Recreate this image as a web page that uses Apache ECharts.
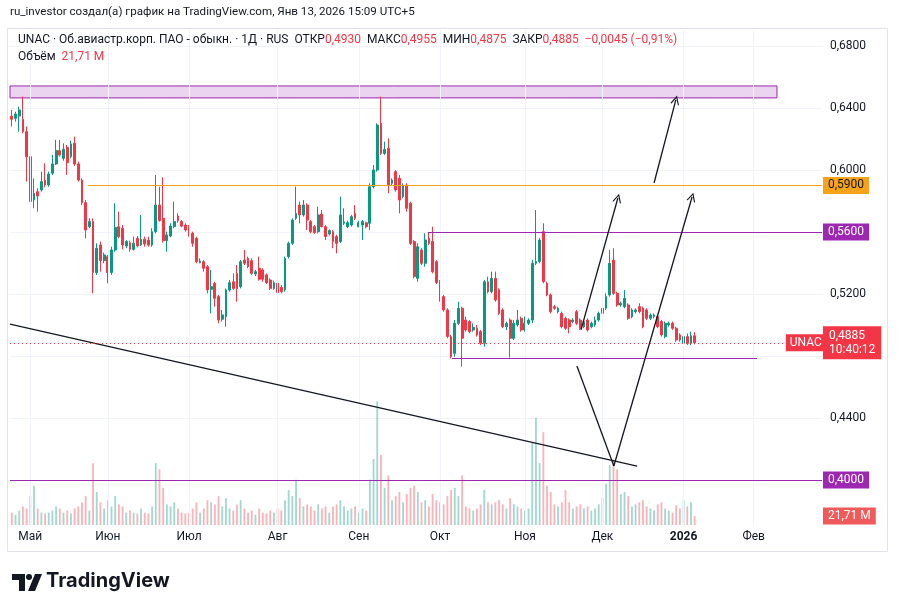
<!DOCTYPE html>
<html><head><meta charset="utf-8">
<script src="https://cdn.jsdelivr.net/npm/echarts@6/dist/echarts.min.js"></script>
<style>html,body{margin:0;padding:0;background:#fff}#c{width:898px;height:612px}</style>
</head><body><div id="c"></div>
<script>
// Daily candles UNAC: [open, close, low, high]
const candles = [
[.6348,.6327,.6280,.6387],[.6333,.6361,.6312,.6376],[.6348,.6387,.6247,.6409],[.6327,.6247,.6237,.6473],[.6247,.6086,.5925,.6280],
[.6086,.5796,.5645,.6097],[.5806,.5850,.5753,.5946],[.5860,.5832,.5731,.5882],[.5871,.5925,.5860,.5989],[.5935,.5903,.5888,.6043],
[.5903,.5974,.5892,.5989],[.5979,.6039,.5968,.6097],[.6039,.6125,.6032,.6194],[.6125,.6097,.6086,.6194],[.6075,.6133,.6060,.6172],
[.6146,.6047,.5968,.6161],[.6086,.6168,.6075,.6189],[.6172,.6039,.6026,.6215],[.6039,.5935,.5925,.6054],[.5935,.5789,.5774,.5946],
[.5789,.5613,.5559,.5806],[.5634,.5667,.5624,.5688],[.5667,.5338,.5204,.5688],[.5338,.5495,.5323,.5527],[.5516,.5415,.5344,.5538],
[.5415,.5452,.5398,.5467],[.5441,.5338,.5269,.5452],[.5338,.5484,.5323,.5505],[.5484,.5630,.5473,.5785],[.5634,.5570,.5559,.5731],
[.5624,.5516,.5488,.5645],[.5510,.5538,.5495,.5548],[.5531,.5488,.5473,.5544],[.5488,.5527,.5480,.5570],[.5559,.5510,.5501,.5574],
[.5516,.5553,.5510,.5710],[.5553,.5523,.5505,.5570],[.5548,.5516,.5505,.5570],[.5516,.5602,.5505,.5624],[.5602,.5774,.5591,.5968],
[.5774,.5673,.5667,.5892],[.5688,.5544,.5531,.5953],[.5544,.5581,.5473,.5602],[.5574,.5638,.5566,.5656],[.5634,.5667,.5624,.5796],
[.5703,.5673,.5660,.5720],[.5667,.5638,.5630,.5677],[.5645,.5613,.5602,.5656],[.5634,.5581,.5570,.5645],[.5591,.5527,.5505,.5602],
[.5559,.5408,.5398,.5570],[.5402,.5413,.5398,.5430],[.5408,.5366,.5344,.5419],[.5376,.5226,.5204,.5387],[.5230,.5247,.5075,.5355],
[.5269,.5172,.5118,.5279],[.5183,.5032,.5011,.5194],[.5037,.5065,.5022,.5097],[.5054,.5226,.4989,.5236],[.5226,.5273,.5215,.5290],
[.5279,.5236,.5226,.5333],[.5333,.5236,.5150,.5387],[.5247,.5408,.5236,.5419],[.5419,.5398,.5387,.5484],[.5430,.5376,.5366,.5441],
[.5415,.5333,.5323,.5430],[.5329,.5344,.5316,.5355],[.5366,.5295,.5286,.5441],[.5355,.5295,.5279,.5366],[.5323,.5273,.5264,.5333],
[.5290,.5236,.5226,.5301],[.5236,.5273,.5226,.5286],[.5269,.5209,.5200,.5279],[.5243,.5215,.5204,.5258],[.5226,.5430,.5215,.5441],
[.5441,.5527,.5430,.5538],[.5527,.5677,.5516,.5688],[.5688,.5720,.5677,.5892],[.5774,.5710,.5656,.5796],[.5710,.5774,.5699,.5806],
[.5774,.5677,.5613,.5785],[.5667,.5602,.5591,.5677],[.5634,.5596,.5587,.5645],[.5602,.5710,.5591,.5763],[.5716,.5634,.5630,.5742],
[.5634,.5570,.5548,.5645],[.5587,.5609,.5578,.5617],[.5602,.5538,.5495,.5613],[.5570,.5527,.5462,.5581],[.5538,.5710,.5527,.5828],
[.5656,.5665,.5645,.5753],[.5634,.5660,.5624,.5673],[.5645,.5699,.5634,.5710],[.5720,.5688,.5677,.5774],[.5634,.5660,.5630,.5673],
[.5645,.5667,.5548,.5677],[.5660,.5634,.5624,.5667],[.5656,.5892,.5613,.5914],[.5892,.6000,.5882,.6032],[.6000,.6290,.5989,.6301],
[.6301,.6107,.6097,.6473],[.6107,.6133,.6097,.6183],[.6140,.5903,.5850,.6204],[.5914,.5935,.5903,.5946],[.5989,.5871,.5860,.6000],
[.5946,.5806,.5720,.5968],[.5828,.5903,.5817,.5914],[.5903,.5753,.5731,.5914],[.5785,.5527,.5516,.5796],[.5538,.5312,.5301,.5548],
[.5301,.5505,.5279,.5527],[.5484,.5398,.5387,.5495],[.5398,.5548,.5376,.5591],[.5559,.5527,.5516,.5600],[.5538,.5344,.5333,.5634],
[.5408,.5273,.5264,.5419],[.5279,.5161,.5150,.5290],[.5183,.5097,.5086,.5194],[.5097,.4925,.4914,.5108],[.4925,.4796,.4785,.4936],
[.4817,.5011,.4796,.5032],[.5011,.5108,.5000,.5150],[.5108,.4914,.4731,.5118],[.5032,.4968,.4957,.5054],[.5022,.4957,.4946,.5032],
[.4968,.4985,.4957,.5011],[.4979,.4936,.4925,.5000],[.4957,.4882,.4871,.4968],[.4882,.5279,.4860,.5290],[.5279,.5215,.5204,.5312],
[.5215,.5301,.5204,.5344],[.5301,.5161,.5150,.5344],[.5226,.5075,.5065,.5236],[.5097,.4989,.4979,.5108],[.4989,.5011,.4968,.5022],
[.5032,.4914,.4790,.5043],[.4914,.5011,.4903,.5032],[.5000,.5032,.4989,.5097],[.5043,.4968,.4957,.5054],[.4968,.5011,.4957,.5054],
[.5011,.5032,.5000,.5043],[.5032,.5398,.5011,.5420],[.5398,.5409,.5387,.5742],[.5409,.5548,.5398,.5560],[.5602,.5280,.5269,.5656],
[.5269,.5194,.5185,.5280],[.5194,.5086,.5075,.5204],[.5118,.5108,.5097,.5129],[.5086,.5108,.5075,.5118],[.5075,.4989,.4979,.5086],
[.5043,.4979,.4968,.5054],[.5032,.4989,.4946,.5043],[.5022,.5032,.5011,.5043],[.5086,.5011,.5000,.5097],[.5032,.4979,.4968,.5043],
[.4989,.5022,.4979,.5032],[.5032,.4968,.4957,.5043],[.4989,.5011,.4979,.5022],[.5000,.5032,.4989,.5054],[.5032,.5075,.5022,.5086],
[.5075,.5108,.5065,.5140],[.5108,.5183,.5097,.5204],[.5194,.5398,.5183,.5484],[.5419,.5204,.5194,.5495],[.5204,.5129,.5118,.5215],
[.5129,.5140,.5118,.5151],[.5118,.5172,.5108,.5226],[.5129,.5043,.5032,.5140],[.5054,.5097,.5043,.5108],[.5086,.5097,.5075,.5108],
[.5118,.5086,.5075,.5140],[.5108,.4989,.4979,.5118],[.5097,.5043,.5032,.5108],[.5043,.5065,.5032,.5075],[.5054,.5065,.5043,.5075],
[.5054,.4989,.4979,.5065],[.5022,.4936,.4925,.5032],[.4925,.5011,.4914,.5022],[.5000,.5011,.4989,.5022],[.5011,.4979,.4968,.5022],
[.4979,.4903,.4892,.4989],[.4936,.4903,.4892,.4946],[.4882,.4925,.4850,.4936],[.4925,.4882,.4871,.4946],[.4882,.4930,.4871,.4957],
[.4930,.4885,.4875,.4955]
];
// Volume, millions
const volumes = [
30,25,35,45,40,70,95,40,30,28, 30,35,45,40,30,35,28,40,45,55,
70,35,150,80,55,40,60,45,70,50, 45,30,35,30,28,40,30,28,45,150,
135,90,50,45,55,40,30,28,30,40, 55,30,40,60,55,50,70,45,65,40,
35,50,60,40,30,35,25,40,30,28, 35,30,40,35,60,85,70,110,65,45,
50,45,35,50,40,45,30,45,50,60, 45,35,40,45,30,40,35,110,160,300,
170,90,120,60,70,80,55,75,90,95, 80,55,60,45,75,60,55,50,70,85,
90,70,120,45,40,35,40,50,85,55, 50,55,60,50,40,65,50,45,40,35,
40,200,260,150,225,95,80,50,45,55, 85,55,40,45,50,40,45,35,40,50,
65,100,145,160,135,75,80,70,45,50, 55,60,45,40,35,50,55,40,35,30,
48,40,60,45,55,21.71
];
// Month labels: [bar slot, text]
const monthTicks = [[5,'Май'],[26,'Июн'],[48,'Июл'],[72,'Авг'],[94,'Сен'],[116,'Окт'],[139,'Ноя'],[160,'Дек'],[182,'2026'],[201,'Фев']];
// Drawn levels: [price, from slot, color, text color]
const levels = [[0.59,20.6,'#F7A21B','#131722'],[0.56,112.7,'#9C27B0','#ffffff'],[0.40,-0.5,'#9C27B0','#ffffff']];
const supportLine = [0.4787,119.2,201.9];
const zoneBox = [[-0.5,0.6542],[207.3,0.6465]];
const trendLines = [[[59.65,0.6905],[199.2,0.5523]],[[-0.5,0.5006],[169.4,0.4090]],[[153.1,0.4735],[163.1,0.4090]]];
const arrows = [[[154.2,0.4968],[164.2,0.5819]],[[163.1,0.4090],[184.3,0.5826]],[[174.0,0.5916],[179.9,0.6452]]];
const timeLeft = '10:40:12';
const headerTitle = 'ru_investor создал(а) график на TradingView.com, Янв 13, 2026 15:09 UTC+5';
const symbolTitle = 'UNAC · Об.авиастр.корп. ПАО - обыкн. · 1Д · RUS';

const N = 220;
const cats = Array.from({length:N},(_,i)=>String(i));
const labelAt = {}; monthTicks.forEach(([i,t])=>labelAt[i]=t);
const fmt = v => v.toFixed(4).replace('.',',');
const UP='#089981', DN='#F23645';
const last = candles[candles.length-1], prev = candles[candles.length-2];
const chg = last[1]-prev[1];
const minus = s => s.replace('-','\u2212');
const FONT = 'Roboto';
const PTOP = 0.6903, PBOT = 0.37097;
const lastVol = volumes[volumes.length-1];

const chevron = 'path://M0,10 L5,0 L10,10 L8.6,10 L5,2.8 L1.4,10 Z';
const solid = (color,width) => ({color, width, type:'solid'});

const levelData = levels.map(([v,from,col,tc]) => [
  {coord:[from,v], lineStyle:solid(col,1.2),
   label:{show:true,position:'end',distance:1,formatter:fmt(v),backgroundColor:col,color:tc,padding:[3,5,2,5],fontSize:12,fontFamily:FONT}},
  {coord:[N-0.5,v]}
]);
const lineData = [
  ...levelData,
  [{coord:[supportLine[1],supportLine[0]],lineStyle:solid('#9C27B0',1.2)},{coord:[supportLine[2],supportLine[0]]}],
  ...trendLines.map(([a,b])=>[{coord:a,lineStyle:solid('#131722',1.3)},{coord:b}]),
  ...arrows.map(([a,b])=>[{coord:a,lineStyle:solid('#131722',1.3)},{coord:b,symbol:chevron,symbolSize:[9,9]}]),
  [{coord:[-0.5,last[1]],lineStyle:{color:DN,width:1,type:[1,3]},
    label:{show:true,position:'end',distance:0,formatter:'UNAC',backgroundColor:DN,color:'#fff',padding:[3,4,2,4],fontSize:12,fontFamily:FONT}},
   {coord:[209.7,last[1]]}],
  [{coord:[209.7,last[1]],lineStyle:{color:'rgba(0,0,0,0)',width:0,type:'solid'},
    label:{show:true,position:'end',distance:1,formatter:fmt(last[1])+'\n'+timeLeft,backgroundColor:DN,color:'#fff',padding:[3,6,2,6],lineHeight:14,fontSize:12,fontFamily:FONT,align:'left'}},
   {coord:[N-0.5,last[1]]}]
];

const ohlcText = '{d|'+symbolTitle+'  ОТКР}{r|'+fmt(last[0])+'}{d|  МАКС}{r|'+fmt(last[3])+'}{d|  МИН}{r|'+fmt(last[2])+'}{d|  ЗАКР}{r|'+fmt(last[1])+'}{r|  '+minus(chg.toFixed(4).replace('.',','))+' ('+minus((chg/prev[1]*100).toFixed(2).replace('.',','))+'%)}';
const rich = {d:{color:'#131722',fontSize:12,fontFamily:FONT,fontWeight:'normal'},r:{color:DN,fontSize:12,fontFamily:FONT,fontWeight:'normal'}};

const chart = echarts.init(document.getElementById('c'));
chart.setOption({
  animation:false,
  backgroundColor:'#ffffff',
  textStyle:{fontFamily:FONT},
  title:[
    {text:headerTitle,left:10,top:6,padding:0,textStyle:{color:'#131722',fontSize:11.6,fontWeight:'normal',fontFamily:FONT}},
    {text:ohlcText,left:18,top:34,padding:0,textStyle:{fontSize:12,fontWeight:'normal',rich}},
    {text:'{d|Объём  }{r|'+String(lastVol).replace('.',',')+' M}',left:18,top:51,padding:0,textStyle:{fontSize:12,fontWeight:'normal',rich}},
    {text:'TradingView',left:46,top:571,padding:0,textStyle:{color:'#131722',fontSize:20,fontWeight:'bold',fontFamily:'Inter'}}
  ],
  grid:[
    {left:10,right:76,top:30,bottom:70},
    {left:10,right:76,top:30,bottom:87}
  ],
  xAxis:[
    {type:'category',gridIndex:0,data:cats,show:false,boundaryGap:true},
    {type:'value',gridIndex:0,min:-0.5,max:N-0.5,show:false},
    {type:'category',gridIndex:1,data:cats,boundaryGap:true,axisLine:{show:false},axisTick:{show:false},splitLine:{show:false},
     axisLabel:{interval:0,margin:6,color:'#131722',fontSize:12,fontFamily:FONT,
       formatter:(v)=>{const t=labelAt[+v]; if(!t) return ''; return t==='2026'?'{b|2026}':t;},
       rich:{b:{fontWeight:'bold',fontSize:12,color:'#131722',fontFamily:FONT}}}}
  ],
  yAxis:[
    {type:'value',gridIndex:0,position:'right',min:0.36,max:PTOP,interval:0.04,
     axisLine:{show:false},axisTick:{show:false},
     splitLine:{show:true,showMinLine:false,showMaxLine:false,lineStyle:{color:'#f0f3fa',width:1}},
     axisLabel:{margin:8,color:'#131722',fontSize:12,fontFamily:FONT,showMinLabel:false,showMaxLabel:false,
       formatter:v=>{ if([0.56,0.48,0.40].some(h=>Math.abs(h-v)<1e-6)) return ''; return fmt(v);}}},
    {type:'value',gridIndex:1,min:0,max:1200,show:false}
  ],
  graphic:[
    {type:'rect',shape:{x:7.5,y:28.5,width:880,height:523},style:{fill:'none',stroke:'#e0e3eb',lineWidth:1},z:-1,silent:true},
    {type:'polygon',shape:{points:[[12,574],[25,574],[25,591],[19,591],[19,580],[12,580]]},style:{fill:'#131722'}},
    {type:'circle',shape:{cx:29,cy:577,r:3},style:{fill:'#131722'}},
    {type:'polygon',shape:{points:[[35,574],[42,574],[35,591],[28,591]]},style:{fill:'#131722'}}
  ],
  series:[
    {type:'line',xAxisIndex:1,yAxisIndex:0,data:[],silent:true,z:1,
     markLine:{silent:true,symbol:['none','none'],animation:false,label:{show:false},
       lineStyle:{color:'#f0f3fa',width:1,type:'solid'},
       data:monthTicks.map(([i])=>[{coord:[i,PTOP]},{coord:[i,PBOT]}])}},
    {type:'bar',xAxisIndex:2,yAxisIndex:1,barWidth:'50%',z:2,
     data:volumes.map((v,i)=>({value:v,itemStyle:{color:candles[i][1]>=candles[i][0]?'rgba(8,153,129,0.38)':'rgba(242,54,69,0.38)'}})),
     markLine:{silent:true,symbol:['none','none'],lineStyle:{color:'rgba(0,0,0,0)',width:0,type:'solid'},
       data:[{yAxis:lastVol,label:{show:true,position:'end',distance:1,formatter:String(lastVol).replace('.',',')+' M',backgroundColor:'#F05A5A',color:'#fff',padding:[3,5,2,5],fontSize:12,fontFamily:FONT}}]}},
    {type:'candlestick',xAxisIndex:0,yAxisIndex:0,data:candles,barWidth:'62%',z:3,
     itemStyle:{color:UP,color0:DN,borderColor:UP,borderColor0:DN,borderWidth:1}},
    {type:'line',xAxisIndex:1,yAxisIndex:0,data:[],silent:true,z:5,
     markArea:{silent:true,itemStyle:{color:'rgba(156,39,176,0.2)',borderColor:'#9C27B0',borderWidth:1},
       data:[[{coord:zoneBox[0]},{coord:zoneBox[1]}]]},
     markLine:{silent:true,symbol:['none','none'],animation:false,label:{show:false},lineStyle:{type:'solid'},data:lineData}}
  ]
});
</script></body></html>
